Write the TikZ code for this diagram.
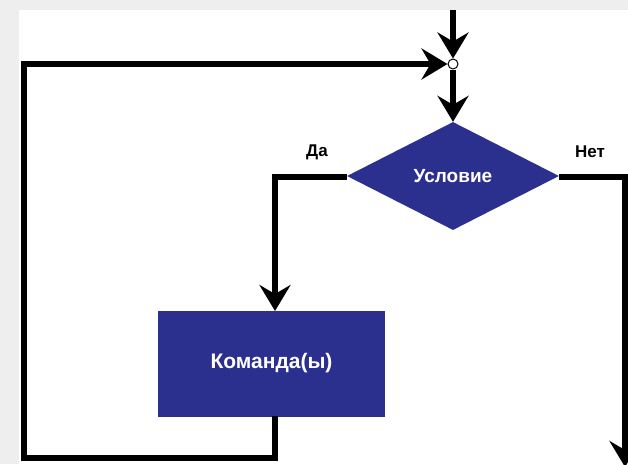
\documentclass[tikz,border=0pt]{standalone}
\usepackage{fontspec}
\setmainfont{Liberation Sans}
\usetikzlibrary{arrows.meta,shapes.geometric}
\definecolor{blockblue}{HTML}{2B2F8E}
\definecolor{pagegray}{HTML}{EEEEEE}
\tikzset{
  flow/.style={line width=6pt, line join=miter, draw=black},
  head/.style={-{Stealth[length=26pt,width=31pt,inset=9pt]}},
  block/.style={fill=blockblue, text=white, inner sep=0pt},
  branch/.style={font=\bfseries\fontsize{17}{20}\selectfont, text=black, inner sep=0pt},
}
\begin{document}
\begin{tikzpicture}[x=1pt,y=-1pt]
  \useasboundingbox (0,0) rectangle (628,464);
  % page background with light frame strip at top and left
  \fill[pagegray] (0,0) rectangle (628,464);
  \fill[white] (19,10) rectangle (628,464);
  \begin{scope}
  \clip (0,0) rectangle (628,464);

  % blocks
  \node[block, shape=diamond, minimum width=212pt, minimum height=108pt,
        font=\bfseries\fontsize{19}{22}\selectfont] (cond) at (453,176) {Условие};
  \node[block, rectangle, minimum width=227pt, minimum height=106pt,
        font=\bfseries\fontsize{21}{24}\selectfont] (cmd) at (271.5,363.5) {Команда(ы)};

  % junction point of the loop
  \node[circle, draw=black, fill=white, line width=1pt, minimum size=10pt, inner sep=0pt] (j) at (453,64) {};

  % helper points
  \coordinate (entry) at (453,10);
  \coordinate (yesturn) at (275,177);
  \coordinate (yesdown) at (275,311);
  \coordinate (cmdout) at (275,416);
  \coordinate (loopbl) at (24,458);
  \coordinate (looptl) at (24,64);
  \coordinate (noturn) at (625,177);
  \coordinate (noend) at (625,467);

  % flow lines
  \draw[flow, head] (entry) -- (j.north);
  \draw[flow, head] (j.south) -- (cond.north);
  \draw[flow, head] (cond.west |- yesturn) -- (yesturn) -- (yesdown);
  \draw[flow, head] (cmdout) |- (loopbl) -- (looptl) -- (j.west);
  \draw[flow, head] (cond.east |- noturn) -- (noturn) -- (noend);
  \end{scope}

  % branch labels
  \node[branch] (yes) at (317,152) {Да};
  \node[branch] (no) at (590,152) {Нет};
\end{tikzpicture}
\end{document}
